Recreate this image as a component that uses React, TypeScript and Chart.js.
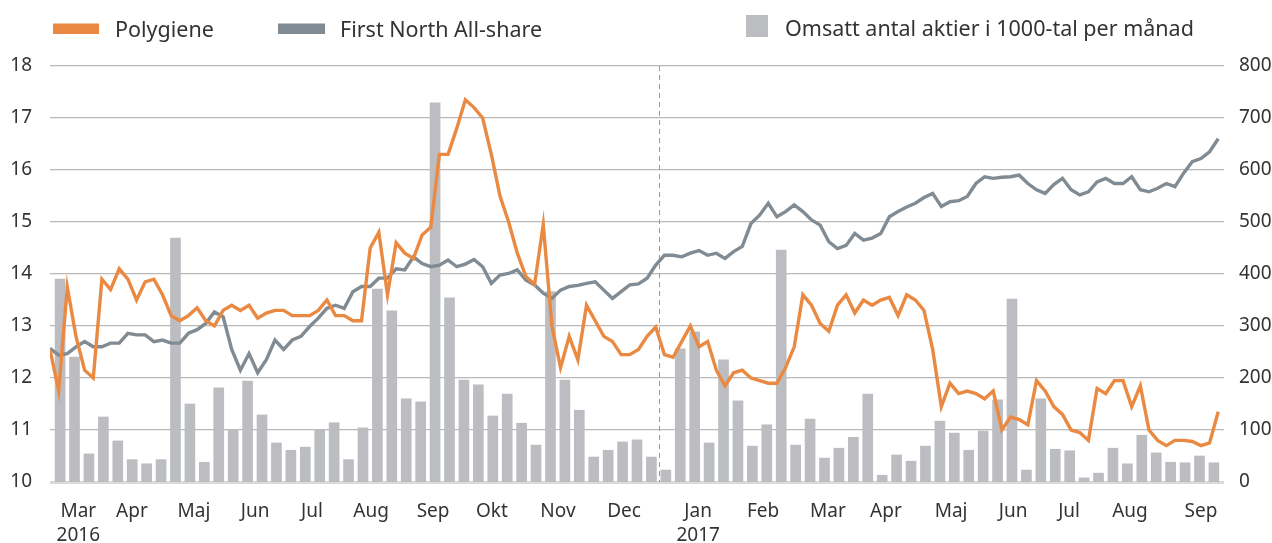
import React, { useEffect, useRef } from 'react';
import { Chart, registerables } from 'chart.js';

Chart.register(...registerables);

// x axis is measured in trading days from the start of the series
const X_MAX = 407;
const LINE_STEP = 3; // trading days between line samples
const BAR_STEP = 5; // one bar per trading week
const BAR_START = 3.5;
const YEAR_BOUNDARY = 211; // 1 Jan 2017

const monthTicks = [9.8, 28.4, 49.9, 71.1, 90.8, 111.3, 132.8, 153.2, 176.1, 199.0, 224.7, 247.2, 269.7, 289.8, 312.4, 333.9, 353.3, 374.4, 399.0];
const monthLabels: (string | string[])[] = [['Mar', '2016'], 'Apr', 'Maj', 'Jun', 'Jul', 'Aug', 'Sep', 'Okt', 'Nov', 'Dec', ['Jan', '2017'], 'Feb', 'Mar', 'Apr', 'Maj', 'Jun', 'Jul', 'Aug', 'Sep'];

const polygiene = [
  12.55, 11.75, 13.75, 12.8, 12.15, 12.0, 13.9, 13.7, 14.1, 13.9,
  13.5, 13.85, 13.9, 13.6, 13.2, 13.1, 13.2, 13.35, 13.1, 13.0,
  13.3, 13.4, 13.3, 13.4, 13.15, 13.25, 13.3, 13.3, 13.2, 13.2,
  13.2, 13.3, 13.5, 13.2, 13.2, 13.1, 13.1, 14.5, 14.8, 13.6,
  14.6, 14.4, 14.3, 14.75, 14.9, 16.3, 16.3, 16.8, 17.35, 17.2,
  17.0, 16.3, 15.5, 15.0, 14.4, 13.95, 13.8, 14.95, 13.0, 12.2,
  12.8, 12.35, 13.4, 13.1, 12.8, 12.7, 12.45, 12.45, 12.55, 12.8,
  12.98, 12.45, 12.4, 12.7, 13.0, 12.6, 12.7, 12.15, 11.85, 12.1,
  12.15, 12.0, 11.95, 11.9, 11.9, 12.2, 12.6, 13.6, 13.4, 13.05,
  12.9, 13.4, 13.6, 13.25, 13.5, 13.4, 13.5, 13.55, 13.2, 13.6,
  13.5, 13.3, 12.55, 11.45, 11.9, 11.7, 11.75, 11.7, 11.6, 11.75,
  11.0, 11.25, 11.2, 11.1, 11.95, 11.75, 11.45, 11.3, 11.0, 10.95,
  10.8, 11.8, 11.7, 11.95, 11.95, 11.45, 11.85, 11.0, 10.8, 10.7,
  10.8, 10.8, 10.78, 10.7, 10.75, 11.35,
];

const firstNorth = [
  12.57, 12.44, 12.47, 12.6, 12.7, 12.6, 12.6, 12.67, 12.67, 12.86,
  12.83, 12.83, 12.7, 12.73, 12.67, 12.67, 12.86, 12.93, 13.05, 13.27,
  13.18, 12.55, 12.15, 12.47, 12.1, 12.35, 12.73, 12.55, 12.73, 12.8,
  12.99, 13.15, 13.34, 13.4, 13.34, 13.66, 13.76, 13.76, 13.92, 13.92,
  14.1, 14.08, 14.33, 14.2, 14.14, 14.17, 14.27, 14.14, 14.19, 14.28,
  14.14, 13.82, 13.98, 14.01, 14.08, 13.88, 13.79, 13.63, 13.53, 13.69,
  13.76, 13.78, 13.82, 13.85, 13.69, 13.53, 13.66, 13.79, 13.81, 13.92,
  14.17, 14.36, 14.36, 14.33, 14.4, 14.45, 14.36, 14.4, 14.3, 14.43,
  14.53, 14.97, 15.13, 15.36, 15.1, 15.2, 15.33, 15.2, 15.04, 14.94,
  14.62, 14.49, 14.55, 14.78, 14.65, 14.69, 14.78, 15.1, 15.2, 15.29,
  15.36, 15.47, 15.55, 15.3, 15.39, 15.41, 15.49, 15.74, 15.87, 15.84,
  15.86, 15.87, 15.9, 15.74, 15.62, 15.55, 15.72, 15.84, 15.62, 15.52,
  15.58, 15.77, 15.84, 15.74, 15.74, 15.87, 15.62, 15.58, 15.65, 15.74,
  15.68, 15.94, 16.16, 16.22, 16.35, 16.6,
];

const volume = [
  390, 240, 54, 125, 79, 43, 35, 43, 469, 150,
  38, 181, 101, 194, 129, 75, 61, 67, 101, 114,
  43, 104, 371, 329, 160, 154, 729, 354, 196, 187,
  127, 169, 113, 71, 366, 196, 138, 48, 61, 77,
  81, 48, 23, 256, 289, 75, 235, 156, 69, 110,
  446, 71, 121, 46, 65, 86, 169, 13, 52, 40,
  69, 117, 94, 61, 98, 158, 352, 23, 160, 63,
  60, 8, 17, 65, 35, 90, 56, 38, 37, 50, 37,
];

const leftTicks = [10, 11, 12, 13, 14, 15, 16, 17, 18];

const ORANGE = 'rgb(233,137,66)';
const GREY = 'rgb(128,139,147)';
const BAR = 'rgb(188,189,193)';
const TEXT = '#333333';
const FONT = '"Noto Sans", "DejaVu Sans", sans-serif';

const overlayPlugin = {
  id: 'overlay',
  beforeDatasetsDraw(chart: any) {
    const { ctx, chartArea, scales } = chart;
    const x = Math.round(scales.x.getPixelForValue(YEAR_BOUNDARY)) + 0.5;
    ctx.save();
    ctx.strokeStyle = '#9a9a9a';
    ctx.lineWidth = 1;
    ctx.setLineDash([5, 4]);
    ctx.beginPath();
    ctx.moveTo(x, chartArea.top);
    ctx.lineTo(x, chartArea.bottom);
    ctx.stroke();
    ctx.restore();
  },
  afterDraw(chart: any) {
    const { ctx } = chart;
    ctx.save();
    ctx.font = `21.5px ${FONT}`;
    ctx.textBaseline = 'alphabetic';
    ctx.textAlign = 'left';
    ctx.fillStyle = ORANGE;
    ctx.fillRect(53, 23.5, 46, 10.5);
    ctx.fillStyle = GREY;
    ctx.fillRect(278, 23.5, 47, 10.5);
    ctx.fillStyle = BAR;
    ctx.fillRect(746, 15, 22, 22);
    ctx.fillStyle = TEXT;
    ctx.fillText('Polygiene', 115, 36.5);
    ctx.fillText('First North All-share', 340, 36.5);
    ctx.fillText('Omsatt antal aktier i 1000-tal per månad', 785, 35.5);
    ctx.restore();
  },
};

export default function App() {
  const ref = useRef<HTMLCanvasElement>(null);
  useEffect(() => {
    document.body.style.margin = '0';
    if (!ref.current) return;
    const chart = new Chart(ref.current, {
      type: 'bar',
      data: {
        datasets: [
          {
            type: 'line',
            label: 'Polygiene',
            data: polygiene.map((v, i) => ({ x: i * LINE_STEP, y: v })),
            borderColor: ORANGE,
            borderWidth: 3.4,
            pointRadius: 0,
            tension: 0,
            yAxisID: 'y',
            order: 1,
          },
          {
            type: 'line',
            label: 'First North All-share',
            data: firstNorth.map((v, i) => ({ x: i * LINE_STEP, y: v })),
            borderColor: GREY,
            borderWidth: 3.4,
            pointRadius: 0,
            tension: 0,
            yAxisID: 'y',
            order: 2,
          },
          {
            type: 'bar',
            label: 'Omsatt antal aktier i 1000-tal per månad',
            data: volume.map((v, i) => ({ x: BAR_START + i * BAR_STEP, y: v })),
            backgroundColor: BAR,
            barThickness: 10,
            yAxisID: 'y1',
            order: 3,
          },
        ] as any,
      },
      options: {
        animation: false,
        responsive: false,
        layout: { padding: { top: 66, left: 0, right: 0, bottom: 0 } },
        plugins: { legend: { display: false }, tooltip: { enabled: false }, title: { display: false } },
        scales: {
          x: {
            type: 'linear',
            min: 0,
            max: X_MAX,
            offset: false,
            grid: { display: false, drawTicks: false, offset: false },
            border: { display: false },
            afterBuildTicks: (scale: any) => {
              scale.ticks = monthTicks.map((v) => ({ value: v }));
            },
            afterFit: (scale: any) => {
              scale.height = 61;
            },
            ticks: {
              autoSkip: false,
              maxRotation: 0,
              minRotation: 0,
              padding: 17,
              color: TEXT,
              font: { family: FONT, size: 19, lineHeight: 1.3 },
              callback: (_v: any, i: number) => monthLabels[i],
            },
          },
          y: {
            type: 'linear',
            position: 'left',
            min: 10,
            max: 18,
            afterBuildTicks: (scale: any) => {
              scale.ticks = leftTicks.map((v) => ({ value: v }));
            },
            afterFit: (scale: any) => {
              scale.width = 50;
            },
            grid: {
              drawTicks: false,
              color: (c: any) => (c.tick && c.tick.value === 10 ? '#dadada' : '#b9b9b9'),
              lineWidth: (c: any) => (c.tick && c.tick.value === 10 ? 3 : 1.3),
            },
            border: { display: false },
            ticks: {
              padding: 18,
              color: TEXT,
              font: { family: FONT, size: 19 },
            },
          },
          y1: {
            type: 'linear',
            position: 'right',
            min: 0,
            max: 800,
            ticks: {
              stepSize: 100,
              padding: 15,
              color: TEXT,
              font: { family: FONT, size: 19 },
            },
            afterFit: (scale: any) => {
              scale.width = 48;
            },
            grid: { display: false, drawTicks: false },
            border: { display: false },
          },
        },
      } as any,
      plugins: [overlayPlugin],
    });
    return () => chart.destroy();
  }, []);
  return (
    <div style={{ width: 1272, height: 543 }}>
      <canvas ref={ref} width={1272} height={543} style={{ display: 'block' }} />
    </div>
  );
}
